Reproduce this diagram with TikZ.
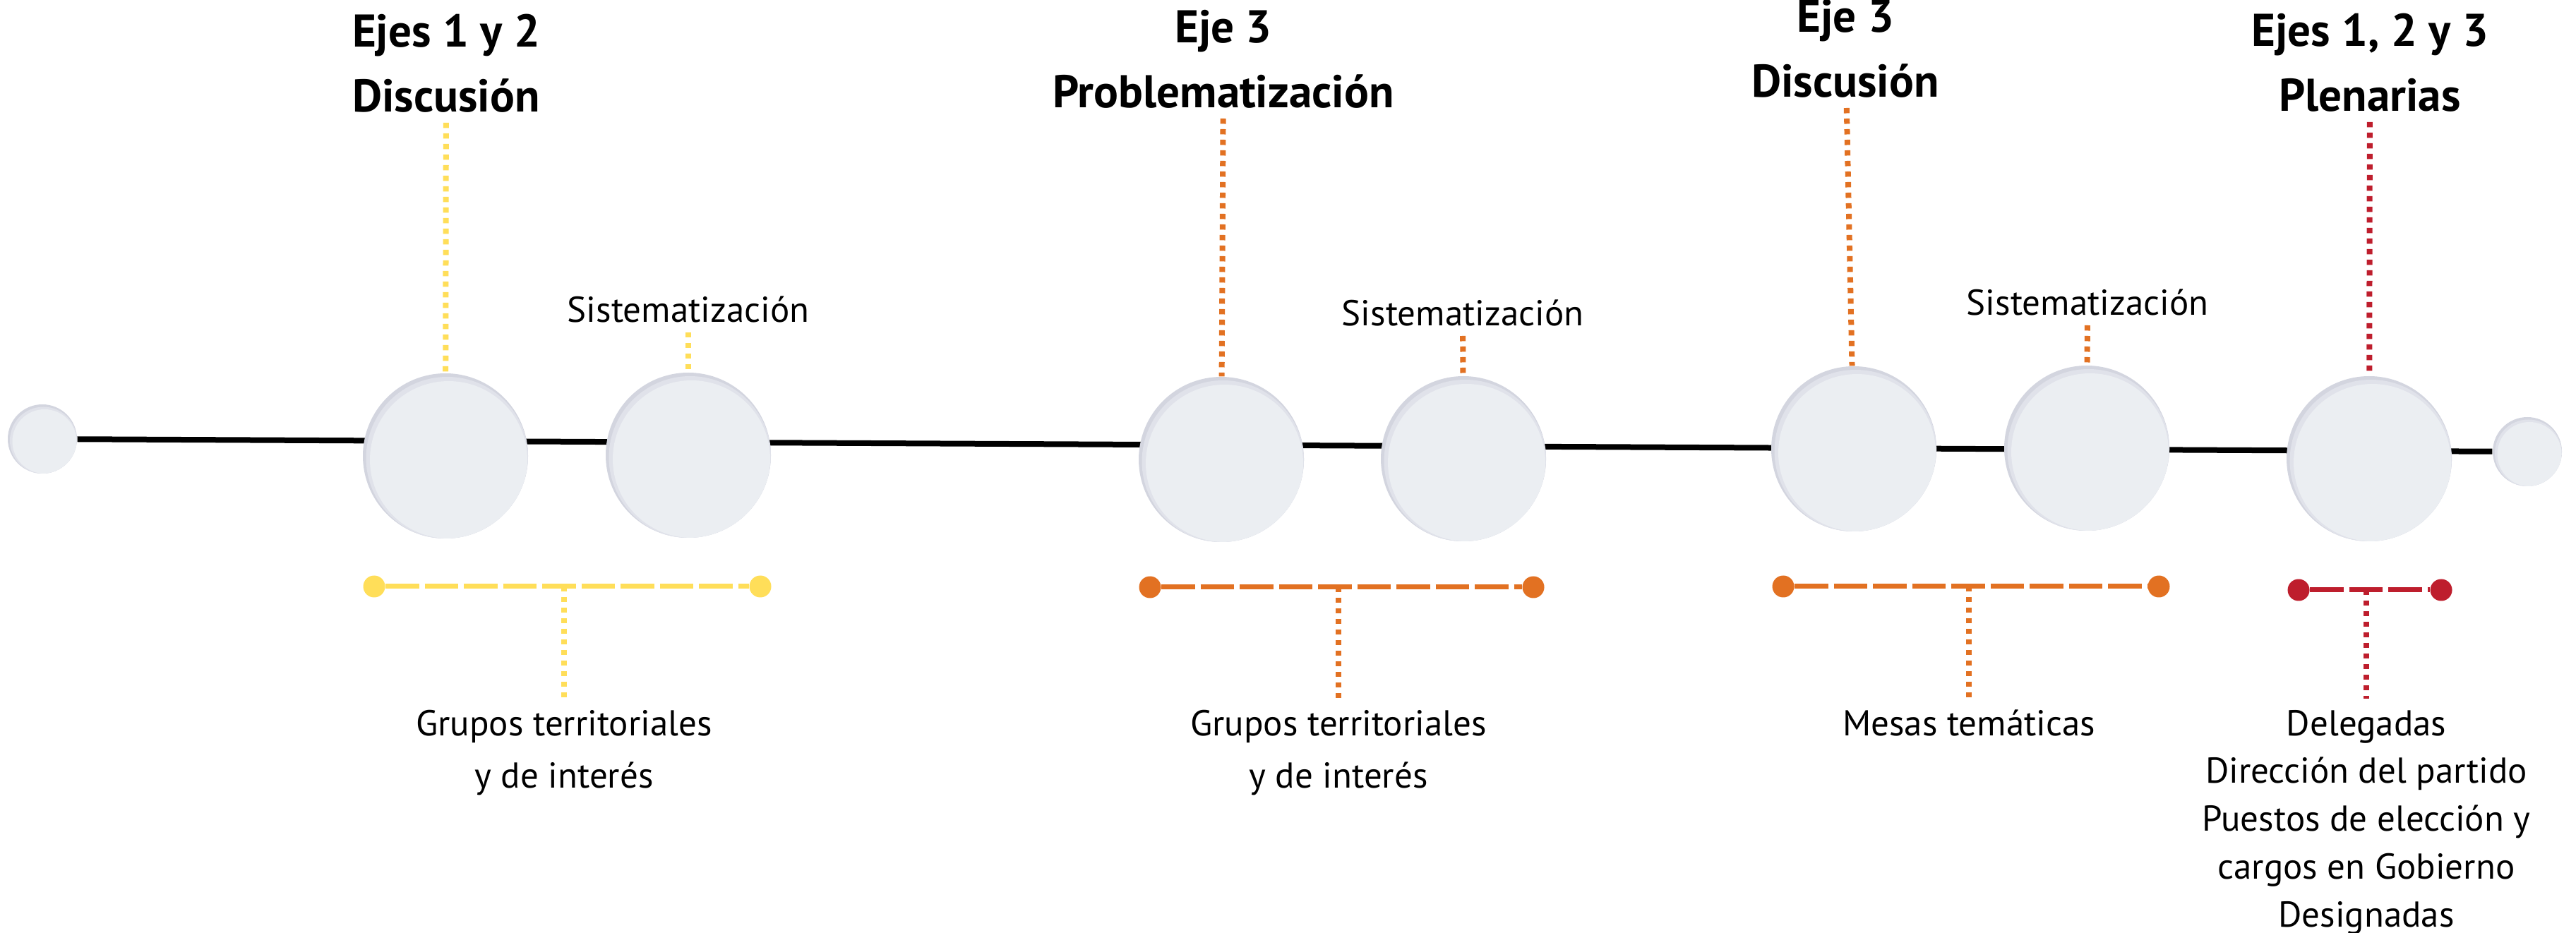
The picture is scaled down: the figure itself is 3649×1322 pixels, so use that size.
\documentclass[tikz,border=0pt]{standalone}
\usepackage{fontspec}
\setmainfont{PT Sans}
\usepackage{tikz}
\usetikzlibrary{backgrounds}

\definecolor{amarillo}{HTML}{FFDE59}
\definecolor{naranja}{HTML}{E27122}
\definecolor{rojo}{HTML}{BE1E2D}
\definecolor{burbuja}{HTML}{EBEEF2}
\definecolor{burbujamedio}{HTML}{E0E2EA}
\definecolor{burbujaborde}{HTML}{D3D5DF}

\tikzset{
    circulo/.style={circle, minimum size=23.4mm, inner sep=0pt, fill=burbujaborde,
        path picture={
            \fill[fill=burbujamedio] ([shift={(0.25mm,-0.3mm)}]path picture bounding box.center) circle (11.5mm);
            \fill[fill=burbuja] ([shift={(0.45mm,-0.55mm)}]path picture bounding box.center) circle (11.15mm);
        }},
    circulito/.style={circle, minimum size=9.8mm, inner sep=0pt, fill=burbujaborde,
        path picture={
            \fill[fill=burbujamedio] ([shift={(0.15mm,-0.2mm)}]path picture bounding box.center) circle (4.75mm);
            \fill[fill=burbuja] ([shift={(0.3mm,-0.35mm)}]path picture bounding box.center) circle (4.55mm);
        }},
    titulo/.style={font=\bfseries\fontsize{18.5}{26}\selectfont, align=center,
        inner sep=0pt, outer sep=1.5mm, anchor=south},
    sistema/.style={font=\fontsize{14.5}{21}\selectfont, inner sep=0pt,
        outer sep=1.4mm, anchor=south},
    grupo/.style={font=\fontsize{14.5}{21}\selectfont, align=center,
        inner sep=0pt, outer sep=1.6mm, anchor=north},
    punto/.style={circle, minimum size=3.1mm, inner sep=0pt, fill=#1},
    puntos/.style={draw=#1, line width=0.8mm, dash pattern=on 0.75mm off 0.75mm},
    barra/.style={draw=#1, line width=0.7mm, dash pattern=on 4.75mm off 0.8mm},
    linea/.style={draw=black, line width=0.8mm}
}

\begin{document}
\begin{tikzpicture}[x=0.1mm, y=-0.1mm]
    \useasboundingbox (0,0) rectangle (3649,1322);

    % Define nodes
    \node[circulito] (s0) at (60,622) {};
    \node[circulito] (s1) at (3580,640) {};

    \node[circulo] (c1) at (631,646) {};
    \node[circulo] (c2) at (975,645) {};
    \node[circulo] (c3) at (1730,651) {};
    \node[circulo] (c4) at (2073,650) {};
    \node[circulo] (c5) at (2626,636) {};
    \node[circulo] (c6) at (2956,635) {};
    \node[circulo] (c7) at (3356,650) {};

    \node[titulo] (t1) at (632,174) {Ejes 1 y 2\\Discusión};
    \node[titulo] (t2) at (1733,168) {Eje 3\\Problematización};
    \node[titulo] (t3) at (2614,153) {Eje 3\\Discusión};
    \node[titulo] (t4) at (3357,173) {Ejes 1, 2 y 3\\Plenarias};

    \node[sistema] (si1) at (975,471) {Sistematización};
    \node[sistema] (si2) at (2072,476) {Sistematización};
    \node[sistema] (si3) at (2957,461) {Sistematización};

    \node[punto=amarillo] (l1) at (530,831) {};
    \node[punto=amarillo] (r1) at (1077,831) {};
    \node[punto=naranja] (l2) at (1629,832) {};
    \node[punto=naranja] (r2) at (2172,832) {};
    \node[punto=naranja] (l3) at (2526,831) {};
    \node[punto=naranja] (r3) at (3058,831) {};
    \node[punto=rojo] (l4) at (3256,836) {};
    \node[punto=rojo] (r4) at (3458,836) {};

    \node[grupo] (g1) at (799,990) {Grupos territoriales\\y de interés};
    \node[grupo] (g2) at (1896,990) {Grupos territoriales\\y de interés};
    \node[grupo] (g3) at (2789,990) {Mesas temáticas};
    \node[grupo, font=\fontsize{14.5}{19.3}\selectfont] (g4) at (3352,990)
        {Delegadas\\Dirección del partido\\Puestos de elección y\\cargos en Gobierno\\Designadas};

    % Draw lines
    \begin{scope}[on background layer]
        \draw[linea] (s0) -- (s1);
    \end{scope}

    \draw[puntos=amarillo] (t1) -- (c1);
    \draw[puntos=amarillo] (si1) -- (c2);
    \draw[puntos=naranja] (t2) -- (c3);
    \draw[puntos=naranja] (si2) -- (c4);
    \draw[puntos=naranja] (t3) -- (c5);
    \draw[puntos=naranja] (si3) -- (c6);
    \draw[puntos=rojo] (t4) -- (c7);

    \draw[barra=amarillo] (l1) -- (r1);
    \draw[barra=naranja] (l2) -- (r2);
    \draw[barra=naranja] (l3) -- (r3);
    \draw[barra=rojo] (l4) -- (r4);

    \draw[puntos=amarillo] (g1.north |- l1) -- (g1);
    \draw[puntos=naranja] (g2.north |- l2) -- (g2);
    \draw[puntos=naranja] (g3.north |- l3) -- (g3);
    \draw[puntos=rojo] (g4.north |- l4) -- (g4);
\end{tikzpicture}
\end{document}
